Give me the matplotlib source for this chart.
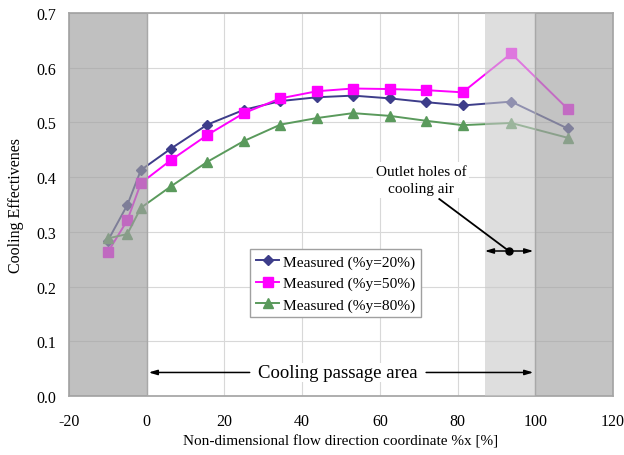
import matplotlib
matplotlib.use("Agg")
import matplotlib.pyplot as plt

plt.rcParams["font.family"] = ["Liberation Serif", "DejaVu Serif"]
plt.rcParams["axes.unicode_minus"] = False

# measurement positions along the flow direction [%]
x_pos = [-10, -5, -1.5, 6.2, 15.6, 25.0, 34.4, 43.8, 53.1, 62.5, 71.9, 81.3, 93.8, 108.3]

eff_y20 = [0.284, 0.349, 0.413, 0.452, 0.496, 0.523, 0.539, 0.546, 0.549, 0.544, 0.537, 0.531, 0.538, 0.489]
eff_y50 = [0.263, 0.321, 0.389, 0.431, 0.477, 0.517, 0.544, 0.557, 0.562, 0.561, 0.559, 0.555, 0.626, 0.525]
eff_y80 = [0.288, 0.296, 0.344, 0.383, 0.428, 0.466, 0.496, 0.508, 0.517, 0.512, 0.503, 0.495, 0.499, 0.472]

labels = ["Measured (%y=20%)", "Measured (%y=50%)", "Measured (%y=80%)"]

fig = plt.figure(figsize=(6.24, 4.56), dpi=100)
ax = fig.add_axes([0.1106, 0.1294, 0.8718, 0.8399])

ax.plot(x_pos, eff_y20, color="#3d3d8a", marker="D", markersize=5, lw=1.4, label=labels[0], zorder=2)
ax.plot(x_pos, eff_y50, color="#ff00ff", marker="s", markersize=7, lw=1.4, label=labels[1], zorder=2)
ax.plot(x_pos, eff_y80, color="#5a9a5c", marker="^", markersize=7, lw=1.4, label=labels[2], zorder=2)

# shaded zones outside the cooling passage and around the outlet holes
ax.axvspan(-20, 0, color="#a0a0a0", alpha=0.66, lw=0, zorder=3)
ax.axvspan(87, 100, color="#c8c8c8", alpha=0.6, lw=0, zorder=3)
ax.axvspan(100, 120, color="#a4a4a4", alpha=0.66, lw=0, zorder=3)
ax.axvline(0, color="#a8a8a8", lw=1, zorder=3)
ax.axvline(100, color="#a8a8a8", lw=1, zorder=3)

ax.set_xlim(-20, 120)
ax.set_ylim(0, 0.7)
ax.set_xticks(range(-20, 121, 20))
ax.set_yticks([i / 10 for i in range(8)])
ax.set_yticklabels([f"{i / 10:.1f}" for i in range(8)])
ax.tick_params(length=0, labelsize=11.5)
ax.tick_params(axis="x", pad=12)
ax.tick_params(axis="y", pad=9)
ax.grid(True, color="#d8d8d8", lw=0.8, zorder=0.5)
ax.set_axisbelow(True)
for side in ["top", "right", "left", "bottom"]:
    ax.spines[side].set_color("#a8a8a8")
    ax.spines[side].set_linewidth(1.3)

ax.set_xlabel("Non-dimensional flow direction coordinate %x [%]", fontsize=11, labelpad=4)
ax.set_ylabel("Cooling Effectivenes", fontsize=11.5, labelpad=9)

leg = ax.legend(loc="upper left", bbox_to_anchor=(0.333, 0.383), fontsize=11.1,
                fancybox=False, framealpha=1, edgecolor="#a0a0a0",
                handlelength=1.55, handletextpad=0.25, borderpad=0.35,
                labelspacing=0.5, borderaxespad=0)
leg.get_frame().set_linewidth(1.0)
leg.set_zorder(6)

# cooling passage extent
ax.text(49.2, 0.043, "Cooling passage area", fontsize=13.5, ha="center", va="center",
        bbox=dict(facecolor="white", edgecolor="none", pad=1), zorder=5)
arrow = dict(arrowstyle="-|>,head_length=0.5,head_width=0.15", color="black", lw=1.1,
             shrinkA=0, shrinkB=0)
ax.annotate("", xy=(0.5, 0.043), xytext=(26.5, 0.043), arrowprops=arrow, zorder=5)
ax.annotate("", xy=(99.5, 0.043), xytext=(71.9, 0.043), arrowprops=arrow, zorder=5)

# outlet hole location
ax.annotate("", xy=(87, 0.265), xytext=(93.2, 0.265), arrowprops=arrow, zorder=5)
ax.annotate("", xy=(99.5, 0.265), xytext=(93.2, 0.265), arrowprops=arrow, zorder=5)
ax.plot([75.3, 93.2], [0.360, 0.265], color="black", lw=1.3, zorder=5)
ax.plot([93.2], [0.265], "o", color="black", markersize=5, zorder=5)
ax.text(70.6, 0.395, "Outlet holes of\ncooling air", fontsize=11, ha="center", va="center",
        linespacing=1.4, bbox=dict(facecolor="white", edgecolor="none", pad=2), zorder=5)

fig.savefig("out.png", dpi=100)
